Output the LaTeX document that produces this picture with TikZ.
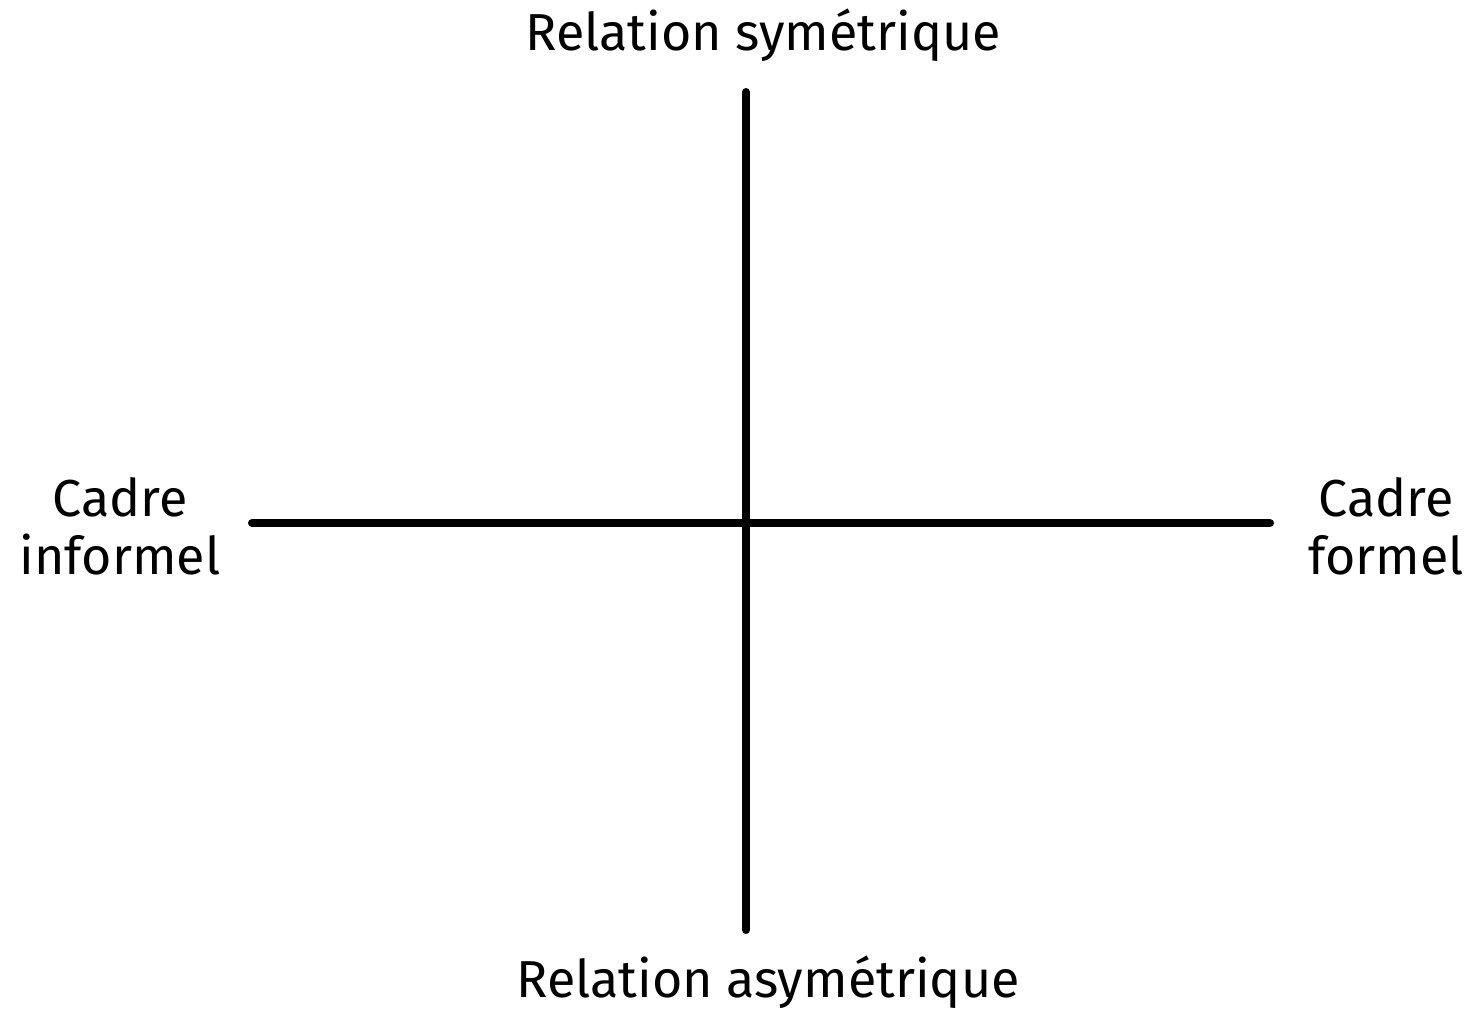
\documentclass[tikz,border=0pt]{standalone}
\usepackage{fontspec}
\setmainfont{Fira Sans}
\tikzset{
  axis/.style={line width=4pt, line cap=round},
  lbl/.style={font=\fontsize{26}{29}\selectfont, inner sep=0pt, align=center}
}
\begin{document}
\begin{tikzpicture}[x=0.5pt,y=-0.5pt]
\useasboundingbox (0,0) rectangle (1475,1018);
\coordinate (top) at (746,92);
\coordinate (bot) at (746,930);
\coordinate (lft) at (252,523);
\coordinate (rgt) at (1270,523);
\draw[axis] (top) -- (bot);
\draw[axis] (lft) -- (rgt);
\node[lbl] (ts) at (763,35) {Relation symétrique};
\node[lbl] (ba) at (768,982) {Relation asymétrique};
\node[lbl] (ci) at (120,526) {Cadre\\informel};
\node[lbl] (cf) at (1386,526) {Cadre\\formel};
\end{tikzpicture}
\end{document}
